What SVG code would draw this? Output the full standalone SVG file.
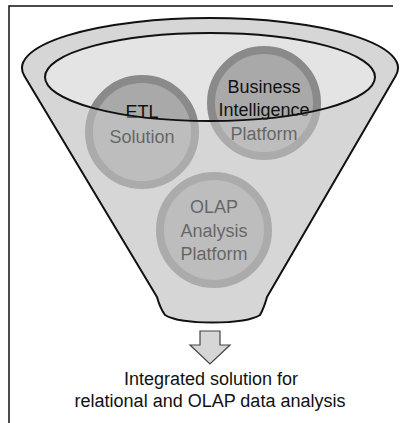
<svg xmlns="http://www.w3.org/2000/svg" width="400" height="423" viewBox="0 0 400 423">
  <defs>
    <style>
      .frame { fill: none; stroke: #111; stroke-width: 1.5; }
      .ring { fill: #a9a9a9; stroke: #8a8a8a; stroke-width: 8; }
      .label { font-family: "Liberation Sans", Arial, sans-serif; font-size: 18px; fill: #111; text-anchor: middle; }
      .outline { fill: none; stroke: #111; stroke-width: 2; stroke-linejoin: round; }
      .arrow { fill: #d6d6d6; stroke: #444; stroke-width: 1.2; stroke-linejoin: miter; }
    </style>
    <!-- funnel silhouette: rim arc over the top, tapering sides, rounded spout -->
    <path id="funnelShape" d="M 24.4,76 A 188 50 0 1 1 395.6,76 L 267,297 Q 264,308 260,315 C 245,325 180,325 165,315 Q 160,308 157,297 Z"/>
  </defs>

  <!-- page frame (top and left edges) -->
  <path class="frame" d="M 9,423 L 9,6 L 393,6"/>

  <!-- back of the funnel: body and the open mouth -->
  <g id="funnel-back">
    <use href="#funnelShape" fill="#d4d4d4"/>
    <ellipse cx="210" cy="77" rx="165" ry="44" fill="#e4e4e4"/>
  </g>

  <!-- components poured into the funnel -->
  <g id="etl">
    <circle class="ring" cx="142" cy="132" r="53"/>
    <text class="label" x="142" y="118">ETL</text>
    <text class="label" x="142" y="143">Solution</text>
  </g>
  <g id="bi">
    <circle class="ring" cx="264" cy="103" r="53"/>
    <text class="label" x="264" y="93">Business</text>
    <text class="label" x="264" y="116">Intelligence</text>
    <text class="label" x="264" y="140">Platform</text>
  </g>
  <g id="olap">
    <circle class="ring" cx="214" cy="230" r="54"/>
    <text class="label" x="214" y="213">OLAP</text>
    <text class="label" x="214" y="237">Analysis</text>
    <text class="label" x="214" y="260">Platform</text>
  </g>

  <!-- front wall of the funnel, translucent so the contents show through -->
  <g id="funnel-front">
    <path fill="#d8d8d8" fill-opacity="0.42" fill-rule="evenodd"
          d="M 24.4,76 A 188 50 0 1 1 395.6,76 L 267,297 Q 264,308 260,315 C 245,325 180,325 165,315 Q 160,308 157,297 Z
             M 45,77 A 165 44 0 1 0 375,77 A 165 44 0 1 0 45,77 Z"/>
    <use href="#funnelShape" class="outline"/>
    <ellipse class="outline" cx="210" cy="77" rx="165" ry="44"/>
  </g>

  <!-- output arrow -->
  <g id="connectors">
    <path class="arrow" d="M 200,331 L 220,331 L 220,345 L 230,345 L 210,364 L 190,345 L 200,345 Z"/>
  </g>

  <g id="result">
    <text class="label" x="211" y="385">Integrated solution for</text>
    <text class="label" x="210" y="407">relational and OLAP data analysis</text>
  </g>
</svg>
